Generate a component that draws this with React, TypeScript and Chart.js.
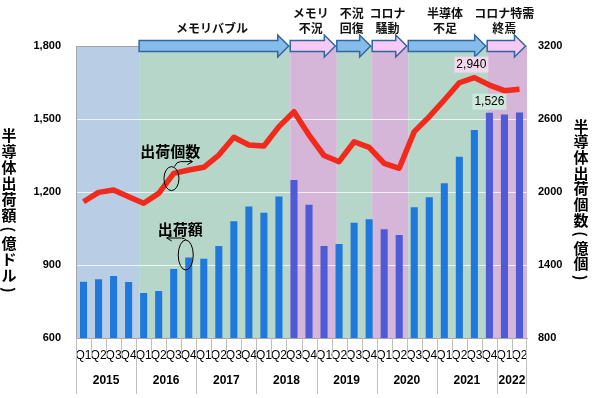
import React, { useEffect, useRef } from 'react';
import { Chart, registerables } from 'chart.js';

Chart.register(...registerables);

// ---------------- data ----------------
const years = ['2015', '2016', '2017', '2018', '2019', '2020', '2021', '2022'];
const quartersPerYear = [4, 4, 4, 4, 4, 4, 4, 2];
const quarterNames = ['Q1', 'Q2', 'Q3', 'Q4'];

// 半導体出荷額（億ドル） – bars, left axis
const salesValues = [
  831, 841, 855, 830,
  785, 793, 884, 931,
  926, 978, 1080, 1140,
  1115, 1181, 1249, 1148,
  978, 986, 1074, 1088,
  1047, 1023, 1137, 1178,
  1236, 1345, 1455, 1526,
  1519, 1527,
];

// 半導体出荷個数（億個） – line, right axis
const unitValues = [
  1920, 1997, 2016, 1961,
  1907, 1989, 2153, 2181,
  2203, 2304, 2450, 2386,
  2378, 2537, 2660, 2468,
  2300, 2249, 2413, 2367,
  2236, 2195, 2496, 2619,
  2756, 2898, 2940, 2879,
  2833, 2844,
];

const leftTicks = [600, 900, 1200, 1500, 1800];
const rightTicks = [800, 1400, 2000, 2600, 3200];

// market phases (boundaries in category units, 0 = left edge of first quarter)
const periodLabels = [[], ['メモリバブル'], ['メモリ', '不況'], ['不況', '回復'], ['コロナ', '騒動'], ['半導体', '不足'], ['コロナ特需', '終焉']];
const periodBounds = [0, 4.2, 14.25, 17.35, 19.7, 22.1, 27.35, 30];
const periodTrend = ['base', 'up', 'down', 'up', 'down', 'up', 'down'];

const leftTitle = '半導体出荷額（億ドル）';
const rightTitle = '半導体出荷個数（億個）';
const unitsCallout = '出荷個数';
const salesCallout = '出荷額';
const peakUnitIndex = 26;
const peakSalesIndex = 27;

const categories: string[] = years.flatMap((_, i) => quarterNames.slice(0, quartersPerYear[i]));

// ---------------- styles ----------------
const JP = '"Noto Sans CJK JP", "Noto Sans", sans-serif';
const AR = 'Arial, "Liberation Sans", sans-serif';
const bandColors: Record<string, string> = { base: '#B9CDE5', up: '#B5D6C8', down: '#D5B5D8' };
const arrowFill: Record<string, string> = { up: '#86BCEC', down: '#F8C9F4' };
const barBlue = '#1F78DC';
const barPurple = '#4E5AD6';

function trendAt(u: number) {
  for (let p = 0; p < periodTrend.length; p++) {
    if (u >= periodBounds[p] && u < periodBounds[p + 1]) return periodTrend[p];
  }
  return 'base';
}

function drawVertical(ctx: CanvasRenderingContext2D, text: string, x: number, y0: number, step: number) {
  let y = y0;
  for (const ch of Array.from(text)) {
    const isParen = ch === '（' || ch === '）';
    const adv = isParen ? step * 0.78 : step;
    const cy = y + adv / 2;
    if (isParen) {
      ctx.save();
      ctx.translate(x, cy);
      ctx.rotate(Math.PI / 2);
      ctx.fillText(ch === '（' ? '(' : ')', 0, 0);
      ctx.restore();
    } else {
      ctx.fillText(ch, x, cy);
    }
    y += adv;
  }
}

const overlayPlugin = {
  id: 'overlay',
  beforeDraw(chart: any) {
    const { ctx, chartArea, scales } = chart;
    const xs = scales.x;
    ctx.save();
    for (let p = 0; p < periodTrend.length; p++) {
      const a = xs.getPixelForValue(periodBounds[p] - 0.5);
      const b = xs.getPixelForValue(periodBounds[p + 1] - 0.5);
      ctx.fillStyle = bandColors[periodTrend[p]];
      ctx.fillRect(a, chartArea.top, b - a, chartArea.bottom - chartArea.top);
    }
    ctx.restore();
  },
  afterDraw(chart: any) {
    const { ctx, chartArea, scales } = chart;
    const xs = scales.x;
    const yl = scales.y;
    const yr = scales.y1;
    const px = (u: number) => xs.getPixelForValue(u - 0.5);
    ctx.save();

    // ---- x axis separators and years ----
    ctx.strokeStyle = '#BFBFBF';
    ctx.lineWidth = 1;
    let idx = 0;
    ctx.font = `bold 12px ${AR}`;
    ctx.fillStyle = '#000';
    ctx.textAlign = 'center';
    ctx.textBaseline = 'middle';
    for (let yi = 0; yi < years.length; yi++) {
      const start = idx;
      for (let q = 0; q < quartersPerYear[yi]; q++) {
        const xx = Math.round(px(idx)) + 0.5;
        ctx.beginPath();
        ctx.moveTo(xx, chartArea.bottom);
        ctx.lineTo(xx, q === 0 ? chartArea.bottom + 56 : chartArea.bottom + 20);
        ctx.stroke();
        idx++;
      }
      ctx.fillText(years[yi], (px(start) + px(idx)) / 2, chartArea.bottom + 43);
    }
    const xe = Math.round(px(idx)) - 0.5;
    ctx.beginPath();
    ctx.moveTo(xe, chartArea.bottom);
    ctx.lineTo(xe, chartArea.bottom + 56);
    ctx.stroke();

    // ---- phase arrows ----
    const cy = chartArea.top;
    for (let p = 1; p < periodTrend.length; p++) {
      const a = px(periodBounds[p]);
      const tip = px(periodBounds[p + 1]) - 1.5;
      const headLen = 11;
      const bh = 5.5;
      const hh = 11;
      ctx.beginPath();
      ctx.moveTo(a, cy - bh);
      ctx.lineTo(tip - headLen, cy - bh);
      ctx.lineTo(tip - headLen, cy - hh);
      ctx.lineTo(tip, cy);
      ctx.lineTo(tip - headLen, cy + hh);
      ctx.lineTo(tip - headLen, cy + bh);
      ctx.lineTo(a, cy + bh);
      ctx.closePath();
      ctx.fillStyle = arrowFill[periodTrend[p]];
      ctx.fill();
      ctx.strokeStyle = '#2F68A0';
      ctx.lineWidth = 1.5;
      ctx.stroke();

      const lines = periodLabels[p];
      ctx.fillStyle = '#111';
      ctx.font = `bold 12px ${JP}`;
      ctx.textAlign = 'center';
      ctx.textBaseline = 'middle';
      const tx = (a + tip) / 2 - 2;
      const n = lines.length;
      lines.forEach((ln, k) => {
        ctx.fillText(ln, tx, cy - 17.5 - (n - 1 - k) * 15.5);
      });
    }

    // ---- axis titles ----
    ctx.fillStyle = '#000';
    ctx.font = `bold 15px ${JP}`;
    ctx.textAlign = 'center';
    ctx.textBaseline = 'middle';
    drawVertical(ctx, leftTitle, 9, 127, 16);
    drawVertical(ctx, rightTitle, 581, 118, 15.7);

    // ---- data labels ----
    const label = (txt: string, x: number, y: number, bg: string) => {
      ctx.font = `12px ${AR}`;
      const w = ctx.measureText(txt).width;
      ctx.fillStyle = bg;
      ctx.fillRect(x - w / 2 - 2, y - 8, w + 4, 16);
      ctx.fillStyle = '#000';
      ctx.textAlign = 'center';
      ctx.textBaseline = 'middle';
      ctx.fillText(txt, x, y);
    };
    const pu = unitValues[peakUnitIndex];
    label(pu.toLocaleString('en-US'), xs.getPixelForValue(peakUnitIndex) - 3, yr.getPixelForValue(pu) - 13, '#F2D8EC');
    const ps = salesValues[peakSalesIndex];
    label(ps.toLocaleString('en-US'), xs.getPixelForValue(peakSalesIndex), yl.getPixelForValue(ps) - 11, '#CDE9DC');

    // ---- callouts ----
    ctx.strokeStyle = '#000';
    ctx.lineWidth = 1;
    ctx.fillStyle = '#000';
    ctx.font = `bold 15px ${JP}`;
    // units callout (right axis)
    const e1x = xs.getPixelForValue(5.85);
    const e1y = yr.getPixelForValue(2110);
    ctx.beginPath();
    ctx.ellipse(e1x, e1y, 7.5, 12, 0, 0, Math.PI * 2);
    ctx.stroke();
    ctx.beginPath();
    ctx.moveTo(e1x + 3, e1y - 12);
    ctx.quadraticCurveTo(e1x + 5, e1y - 17, e1x + 9, e1y - 17);
    ctx.lineTo(e1x + 21, e1y - 17);
    ctx.moveTo(e1x + 16, e1y - 20);
    ctx.lineTo(e1x + 21, e1y - 17);
    ctx.lineTo(e1x + 16, e1y - 14);
    ctx.stroke();
    ctx.fillText(unitsCallout, xs.getPixelForValue(5.77), yr.getPixelForValue(2337));

    // sales callout (left axis)
    const e2x = xs.getPixelForValue(6.8);
    const e2y = yl.getPixelForValue(941);
    ctx.beginPath();
    ctx.ellipse(e2x, e2y, 7.5, 15, 0, 0, Math.PI * 2);
    ctx.stroke();
    ctx.beginPath();
    ctx.moveTo(e2x, e2y - 15);
    ctx.quadraticCurveTo(e2x - 1, e2y - 17, e2x - 4, e2y - 17);
    ctx.lineTo(e2x - 19, e2y - 17);
    ctx.moveTo(e2x - 14, e2y - 20);
    ctx.lineTo(e2x - 19, e2y - 17);
    ctx.lineTo(e2x - 14, e2y - 14);
    ctx.stroke();
    ctx.fillText(salesCallout, xs.getPixelForValue(6.43), yl.getPixelForValue(1048));

    ctx.restore();
  },
};

export default function App() {
  const ref = useRef<HTMLCanvasElement | null>(null);

  useEffect(() => {
    document.body.style.margin = '0';
    const canvas = ref.current;
    if (!canvas) return;
    const chart = new Chart(canvas, {
      type: 'bar',
      data: {
        labels: categories,
        datasets: [
          {
            type: 'line',
            label: '出荷個数',
            data: unitValues,
            yAxisID: 'y1',
            borderColor: '#F22A1C',
            borderWidth: 5.5,
            pointRadius: 0,
            tension: 0,
            borderJoinStyle: 'round',
            order: 0,
          } as any,
          {
            type: 'bar',
            label: '出荷額',
            data: salesValues,
            yAxisID: 'y',
            backgroundColor: (c: any) => (trendAt(c.dataIndex + 0.5) === 'down' ? barPurple : barBlue),
            categoryPercentage: 1,
            barPercentage: 0.47,
            order: 1,
          } as any,
        ],
      },
      options: {
        responsive: false,
        animation: false,
        devicePixelRatio: 1,
        layout: { padding: { top: 46, left: 0, right: 0, bottom: 0 } },
        plugins: { legend: { display: false }, tooltip: { enabled: false } },
        scales: {
          x: {
            type: 'category',
            offset: true,
            grid: { display: true, drawOnChartArea: false, drawTicks: false },
            border: { display: true, color: '#A6A6A6' },
            ticks: {
              autoSkip: false,
              maxRotation: 0,
              minRotation: 0,
              padding: 10,
              color: '#000',
              font: { size: 12, family: AR },
            },
            afterFit: (s: any) => { s.height = 60; },
          },
          y: {
            position: 'left',
            min: leftTicks[0],
            max: leftTicks[leftTicks.length - 1],
            afterBuildTicks: (s: any) => { s.ticks = leftTicks.map((v) => ({ value: v })); },
            grid: {
              drawTicks: false,
              color: (c: any) => (c.tick && c.tick.value === leftTicks[leftTicks.length - 1] ? '#A6A6A6' : 'rgba(255,255,255,0.75)'),
            },
            border: { display: true, color: '#A6A6A6' },
            ticks: {
              padding: 15,
              color: '#000',
              font: { size: 11, weight: 'bold', family: AR },
              callback: (v: any) => Number(v).toLocaleString('en-US'),
            },
            afterFit: (s: any) => { s.width = 76; },
          },
          y1: {
            position: 'right',
            min: rightTicks[0],
            max: rightTicks[rightTicks.length - 1],
            afterBuildTicks: (s: any) => { s.ticks = rightTicks.map((v) => ({ value: v })); },
            grid: { drawOnChartArea: false, drawTicks: false },
            border: { display: false },
            ticks: {
              padding: 11,
              color: '#000',
              font: { size: 11, weight: 'bold', family: AR },
              callback: (v: any) => String(v),
            },
            afterFit: (s: any) => { s.width = 73; },
          },
        },
      } as any,
      plugins: [overlayPlugin],
    });
    return () => chart.destroy();
  }, []);

  return (
    <div style={{ width: 600, height: 398, background: '#fff' }}>
      <canvas ref={ref} width={600} height={398} style={{ display: 'block' }} />
    </div>
  );
}
